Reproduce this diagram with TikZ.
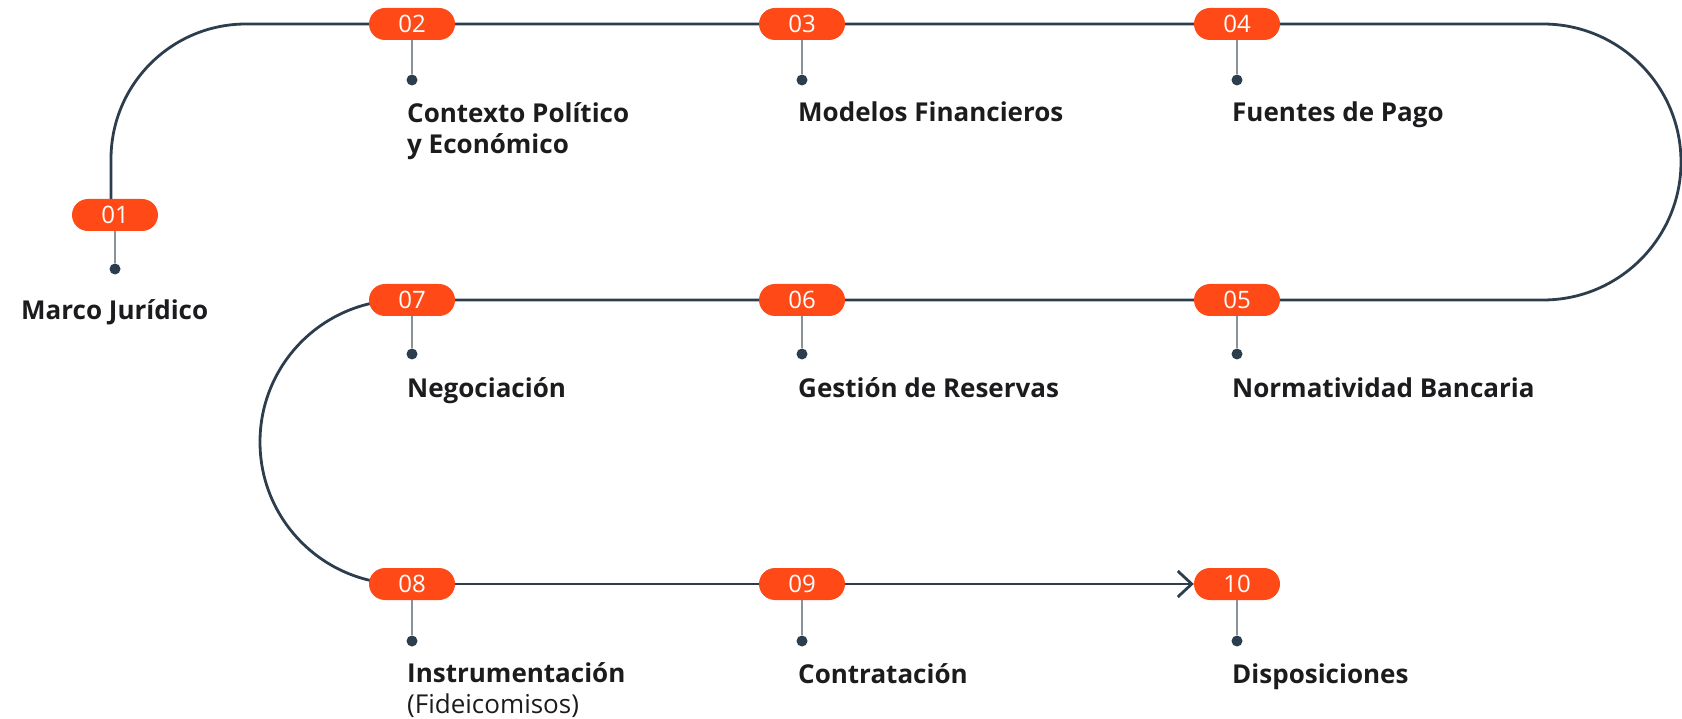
\documentclass[tikz,border=0pt]{standalone}
\usepackage{fontspec}
\setmainfont{Open Sans}
\usepackage{tikz}
\usetikzlibrary{arrows.meta,backgrounds,positioning}
\definecolor{badgeorange}{RGB}{255,74,23}
\definecolor{trackblue}{RGB}{44,62,78}
\definecolor{stemgray}{RGB}{138,146,153}
\definecolor{stageblack}{RGB}{28,28,30}
\tikzstyle{badge}=[rectangle,rounded corners=16pt,fill=badgeorange,draw=none,text=white,
  minimum width=86pt,minimum height=32pt,inner sep=0pt,font=\fontsize{24}{28}\selectfont]
\tikzstyle{dot}=[circle,fill=trackblue,draw=none,inner sep=0pt,minimum size=11pt]
\tikzstyle{stage}=[anchor=base west,inner sep=0pt,align=left,text=stageblack,
  font=\fontsize{26}{31}\selectfont\bfseries]
\tikzstyle{track}=[draw=trackblue,line width=2.8pt]
\tikzstyle{every edge}=[-,draw=stemgray,line width=1.4pt]

\begin{document}
\begin{tikzpicture}[x=1pt,y=-1pt]
        \useasboundingbox (0,0) rectangle (1682,719);

        % Badges:
        \node (b01) [badge] at (115,215) {01};
        % First row:
        \node (b02) [badge] at (412,24) {02};
        \node (b03) [badge] at (802,24) {03};
        \node (b04) [badge] at (1237,24) {04};
        % Second row:
        \node (b07) [badge] at (412,300) {07};
        \node (b06) [badge] at (802,300) {06};
        \node (b05) [badge] at (1237,300) {05};
        % Third row:
        \node (b08) [badge] at (412,584) {08};
        \node (b09) [badge] at (802,584) {09};
        \node (b10) [badge] at (1237,584) {10};

        % Dots:
        \node (d01) [dot] at (115,269) {};
        \node (d02) [dot] at (412,80) {};
        \node (d03) [dot] at (802,80) {};
        \node (d04) [dot] at (1237,80) {};
        \node (d07) [dot] at (412,354) {};
        \node (d06) [dot] at (802,354) {};
        \node (d05) [dot] at (1237,354) {};
        \node (d08) [dot] at (412,641) {};
        \node (d09) [dot] at (802,641) {};
        \node (d10) [dot] at (1237,641) {};

        % Stage names (base = last line):
        \node (t01) [stage] at (21,320) {Marco Jurídico};
        \node (t02) [stage] at (407,154) {Contexto Político\\y Económico};
        \node (t03) [stage] at (798,122) {Modelos Financieros};
        \node (t04) [stage] at (1232,122) {Fuentes de Pago};
        \node (t07) [stage] at (407,397) {Negociación};
        \node (t06) [stage] at (798,397) {Gestión de Reservas};
        \node (t05) [stage] at (1232,397) {Normatividad Bancaria};
        \node (t08) [stage] at (407,713) {Instrumentación\\\textmd{(Fideicomisos)}};
        \node (t09) [stage] at (798,683) {Contratación};
        \node (t10) [stage] at (1232,683) {Disposiciones};

        \path
        (b01) edge (d01)
        (b02) edge (d02)
        (b03) edge (d03)
        (b04) edge (d04)
        (b07) edge (d07)
        (b06) edge (d06)
        (b05) edge (d05)
        (b08) edge (d08)
        (b09) edge (d09)
        (b10) edge (d10);

        % The track behind the badges:
        \begin{scope}[on background layer]
          \draw[track,rounded corners=135pt] ([xshift=-4pt]b01.north) |- (b02.center);
          \draw[track] (b02.center) -- (b04.center) -- ++(306,0)
            arc[start angle=-90,end angle=90,radius=138] -- (b07.center) -- ++(-10,0)
            arc[start angle=-90,end angle=-270,radius=142] -- (b08.center);
          \draw[track,-{Straight Barb[length=14pt,width=26pt]}] (b08.center) -- (b10.west);
        \end{scope}
\end{tikzpicture}
\end{document}
